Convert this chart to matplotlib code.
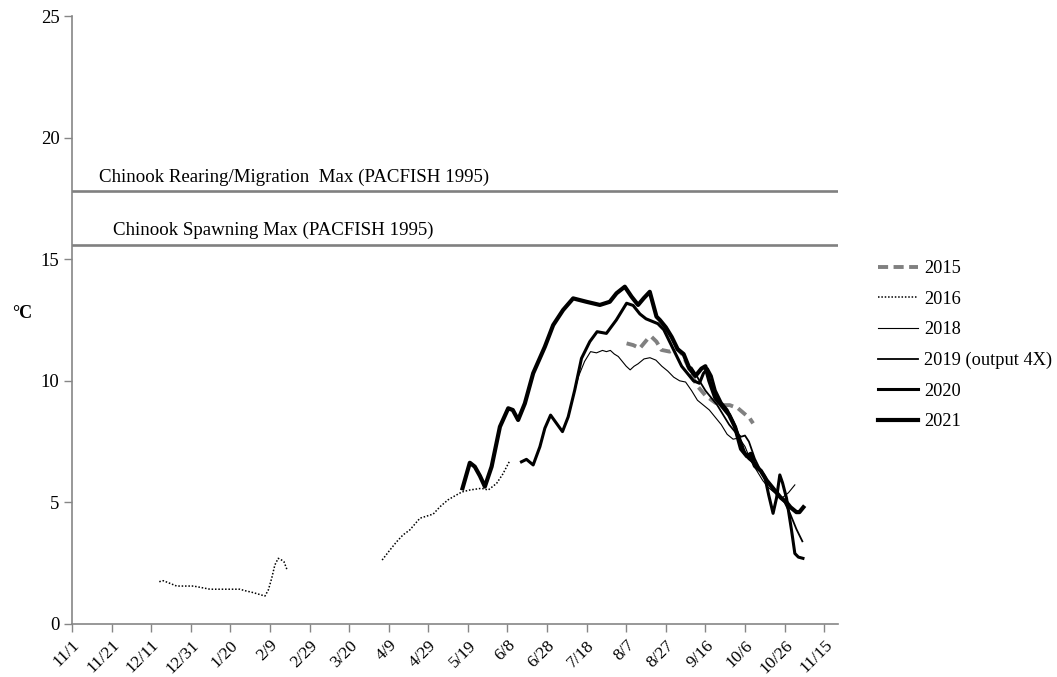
import matplotlib
matplotlib.use("Agg")
import matplotlib.pyplot as plt

plt.rcParams['font.family'] = ['Liberation Serif', 'DejaVu Serif']

# day number counted from 11/1, water temperature in deg C
days_2015 = [280.2, 283.5, 286.9, 291.1, 292.8, 295.3, 297.8, 302, 305.4, 308.7,
             312.1, 315.5, 320, 325, 328.9, 332.3, 336.5, 342.4, 344.1]
temp_2015 = [11.54, 11.47, 11.34, 11.75, 11.81, 11.61, 11.27, 11.2, 11.34, 11.06,
             10.44, 9.83, 9.4, 9.1, 9.0, 9.0, 8.87, 8.46, 8.25]

days_2016a = [44.1, 46.1, 48.6, 52.9, 57.9, 61.3, 64.6, 69.7, 76.4, 84.8, 87.4, 91.6,
              95.8, 97.5, 99.2, 100.9, 102.5, 104.2, 105.9, 107.1, 108.7]
temp_2016a = [1.74, 1.78, 1.70, 1.56, 1.56, 1.56, 1.51, 1.43, 1.43, 1.43, 1.37, 1.29,
              1.19, 1.15, 1.40, 1.88, 2.43, 2.70, 2.63, 2.56, 2.22]
days_2016b = [156.7, 160.6, 164, 167.2, 170.7, 175.8, 182.5, 185.9, 189.9, 192.6,
              197, 201, 206.9, 210.3, 214.5, 217.7, 220.9]
temp_2016b = [2.63, 3.04, 3.38, 3.66, 3.87, 4.35, 4.52, 4.82, 5.10, 5.23,
              5.43, 5.51, 5.58, 5.51, 5.78, 6.17, 6.67]

days_2018 = [254, 256, 259, 262, 265, 268, 270, 272, 274, 276, 278, 280, 282, 284,
             286, 289, 292, 295, 298, 301, 304, 307, 310, 313, 316, 319, 322, 325,
             328, 331, 334, 337, 340, 343, 346, 349, 352, 355, 359, 362, 365.2]
temp_2018 = [9.6, 10.2, 10.8, 11.2, 11.15, 11.25, 11.2, 11.25, 11.1, 11.0, 10.8, 10.6,
             10.45, 10.6, 10.7, 10.9, 10.95, 10.85, 10.6, 10.4, 10.15, 10.0, 9.95, 9.6,
             9.2, 9.0, 8.8, 8.5, 8.2, 7.8, 7.6, 7.65, 7.3, 6.7, 6.3, 5.9, 5.6, 5.4,
             5.2, 5.4, 5.72]

days_2019 = [311, 313, 315, 317, 320, 323, 326, 329, 332, 335, 338, 340, 342, 345,
             348, 351, 354, 357, 360, 363, 366, 369]
temp_2019 = [10.6, 10.55, 10.3, 10.0, 9.6, 9.3, 9.0, 8.6, 8.2, 7.9, 7.7, 7.75, 7.5, 6.8,
             6.3, 5.9, 5.5, 5.3, 5.0, 4.5, 3.9, 3.4]

days_2020 = [227.1, 229.6, 233, 236.4, 238.9, 241.8, 244.8, 247.8, 250.7, 254, 257.4,
             261.6, 265.3, 270, 275, 280.2, 283.5, 286.9, 290, 293, 296, 299, 302, 305,
             308, 311, 314, 317, 319, 321, 323, 325, 328, 331, 334, 337, 340, 342, 345,
             348, 350, 352, 354.2, 356, 357.6, 359, 361, 363.5, 365.2, 367, 369.3]
temp_2020 = [6.67, 6.77, 6.54, 7.29, 8.05, 8.59, 8.25, 7.91, 8.52, 9.62, 10.92,
             11.61, 12.02, 11.95, 12.5, 13.19, 13.1, 12.75, 12.55, 12.45, 12.35, 12.1,
             11.6, 11.1, 10.6, 10.3, 10.0, 9.9, 10.3, 10.5, 10.2, 9.6, 9.1, 8.8, 8.3,
             7.7, 7.0, 6.8, 6.6, 6.3, 6.06, 5.3, 4.55, 5.2, 6.13, 5.8, 5.17, 3.87, 2.9,
             2.75, 2.7]

days_2021 = [197.3, 201, 203.5, 206.1, 208.6, 212, 216.2, 220.4, 222.7, 225.4, 228.8,
             233, 238.9, 243.1, 248.1, 253.2, 259.9, 266.7, 271.7, 275.1, 279.3, 282.7,
             286, 288.9, 291.9, 295.3, 297, 300, 303, 306, 309, 312, 315, 318, 320, 322,
             325, 329, 332, 335, 338, 341, 343, 345, 348, 351, 354, 358, 361, 363, 366,
             367.5, 369.5]
temp_2021 = [5.58, 6.63, 6.47, 6.09, 5.65, 6.47, 8.11, 8.87, 8.80, 8.39, 9.07,
             10.31, 11.40, 12.29, 12.91, 13.39, 13.25, 13.12, 13.25, 13.60, 13.87, 13.46,
             13.12, 13.40, 13.66, 12.64, 12.5, 12.2, 11.8, 11.3, 11.1, 10.5, 10.2, 10.5,
             10.6, 10.0, 9.3, 8.9, 8.6, 8.1, 7.2, 6.9, 7.0, 6.5, 6.3, 5.9, 5.6, 5.2, 5.0,
             4.8, 4.6, 4.6, 4.8]

rearing_max = 17.8
spawning_max = 15.6

tick_days = list(range(0, 381, 20))
tick_labels = ['11/1', '11/21', '12/11', '12/31', '1/20', '2/9', '2/29', '3/20', '4/9',
               '4/29', '5/19', '6/8', '6/28', '7/18', '8/7', '8/27', '9/16', '10/6',
               '10/26', '11/15']

fig = plt.figure(figsize=(10.57, 6.77), dpi=100)
ax = fig.add_axes([0.0681, 0.0783, 0.7247, 0.898])

grey = '#808080'
ax.axhline(rearing_max, color=grey, lw=1.9)
ax.axhline(spawning_max, color=grey, lw=1.9)
ax.text(13.5, rearing_max + 0.22, 'Chinook Rearing/Migration  Max (PACFISH 1995)',
        fontsize=13.6, va='bottom', ha='left')
ax.text(20.5, spawning_max + 0.22, 'Chinook Spawning Max (PACFISH 1995)',
        fontsize=13.6, va='bottom', ha='left')

l15, = ax.plot(days_2015, temp_2015, color=grey, lw=2.8, dashes=[2.6, 1.4], label='2015')
l16, = ax.plot(days_2016a, temp_2016a, color='black', lw=1.1, ls=(0, (1, 1.2)), label='2016')
ax.plot(days_2016b, temp_2016b, color='black', lw=1.1, ls=(0, (1, 1.2)))
l18, = ax.plot(days_2018, temp_2018, color='black', lw=0.8, label='2018')
l19, = ax.plot(days_2019, temp_2019, color='black', lw=1.3, label='2019 (output 4X)')
l20, = ax.plot(days_2020, temp_2020, color='black', lw=2.2, label='2020')
l21, = ax.plot(days_2021, temp_2021, color='black', lw=3.0, label='2021')

ax.set_xlim(0, 387)
ax.set_ylim(0, 25)
ax.set_yticks([0, 5, 10, 15, 20, 25])
ax.set_xticks(tick_days)
ax.set_xticklabels(tick_labels, rotation=45, ha='right', rotation_mode='anchor')
ax.tick_params(color='#868686', length=6, width=1)
ax.tick_params(axis='x', labelsize=12.5)
ax.tick_params(axis='y', labelsize=13.5, pad=3)

for side in ['top', 'right']:
    ax.spines[side].set_visible(False)
for side in ['left', 'bottom']:
    ax.spines[side].set_color('#868686')
    ax.spines[side].set_linewidth(1.2)

ax.set_ylabel('°C', rotation=0, fontsize=13, fontweight='bold')
ax.yaxis.set_label_coords(-0.065, 0.497)

fig.legend(handles=[l15, l16, l18, l19, l20, l21], loc='upper left',
           bbox_to_anchor=(0.8155, 0.64), frameon=False, fontsize=13.2,
           handlelength=2.15, handletextpad=0.33, labelspacing=0.74)

fig.savefig('out.png', dpi=100)
